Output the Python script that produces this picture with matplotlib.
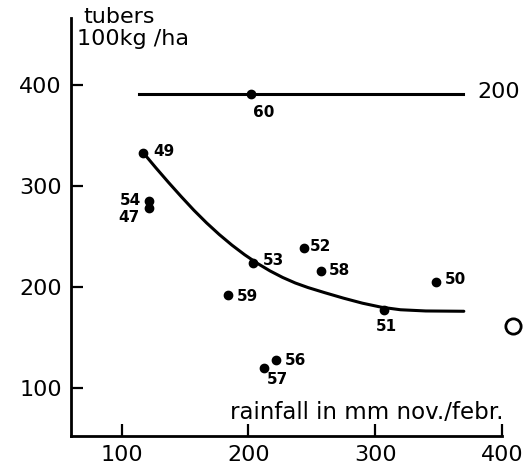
import matplotlib
matplotlib.use("Agg")
import matplotlib.pyplot as plt

# rainfall nov./febr. (mm) against tuber yield (100 kg/ha), one point per year
years = ["49", "54", "47", "53", "52", "58", "59", "56", "57", "50", "51"]
rain = [117, 121.5, 121.5, 204, 244, 257, 184, 222, 212, 348, 307]
yield_ = [333, 285, 278, 224, 239, 216, 192, 128, 120, 205, 177]

# fitted curve
curve_x = [117, 127, 137, 147, 157, 167, 177, 187, 197, 207, 217, 227, 237,
           247, 260, 275, 290, 305, 320, 340, 370]
curve_y = [333, 318, 303.5, 289.5, 276, 263.5, 252, 241.5, 232, 223.5, 216,
           209.5, 204, 199.5, 194.5, 189, 184, 180, 177.5, 176.3, 176]

# 1960 drawn separately with its own level line (right-hand value 200)
y60_x, y60_y = 202, 391
line60_x = [114, 369]
open_x, open_y = 409, 161

xticks = [100, 200, 300, 400]
yticks = [100, 200, 300, 400]

# label offsets in pixels (dx, dy, ha, va)
offsets = {
    "49": (10, 1, "left", "center"),
    "54": (-8, 1, "right", "center"),
    "47": (-9, -9, "right", "center"),
    "53": (9, 2, "left", "center"),
    "52": (6, 1, "left", "center"),
    "58": (8, 0, "left", "center"),
    "59": (9, -1, "left", "center"),
    "56": (9, -1, "left", "center"),
    "57": (14, -12, "center", "center"),
    "50": (9, 2, "left", "center"),
    "51": (2, -16, "center", "center"),
}

W, H = 532, 467
fig = plt.figure(figsize=(W / 100, H / 100), dpi=100)
ax = fig.add_axes([71 / W, 31 / H, 1 - 71 / W, 1 - 31 / H])
ax.set_xlim(60, 423.8)
ax.set_ylim(52.5, 484.2)

ax.plot(curve_x, curve_y, color="black", lw=2.2, solid_capstyle="round",
        solid_joinstyle="round")
ax.plot(line60_x, [y60_y, y60_y], color="black", lw=2.2)
ax.plot(rain, yield_, "o", color="black", ms=6)
ax.plot([y60_x], [y60_y], "o", color="black", ms=6)
ax.plot([open_x], [open_y], "o", mfc="white", mec="black", mew=2, ms=11,
        clip_on=False)

lab = dict(fontsize=11, fontweight="bold", color="black")
for yr, x, y in zip(years, rain, yield_):
    dx, dy, ha, va = offsets[yr]
    ax.annotate(yr, (x, y), xytext=(dx, dy), textcoords="offset pixels",
                ha=ha, va=va, **lab)
ax.annotate("60", (y60_x, y60_y), xytext=(13, -18), textcoords="offset pixels",
            ha="center", va="center", **lab)

ax.text(380.4, 393, "200", fontsize=16, ha="left", va="center")

for s in ["top", "right"]:
    ax.spines[s].set_visible(False)
ax.spines["left"].set_bounds(52.5, 466)
ax.spines["bottom"].set_bounds(60, 400)
for s in ["left", "bottom"]:
    ax.spines[s].set_linewidth(2)

ax.set_xticks(xticks)
ax.set_yticks(yticks)
ax.tick_params(direction="in", length=8.5, width=1.6, labelsize=16, pad=6.5)

fig.text(83 / W, 1 - 23 / H, "tubers", fontsize=16, va="baseline", ha="left")
fig.text(77 / W, 1 - 45 / H, "100kg /ha", fontsize=16, va="baseline", ha="left")
fig.text(503 / W, 1 - 419 / H, "rainfall in mm nov./febr.", fontsize=16.5,
         va="baseline", ha="right")

fig.savefig("out.png", dpi=100)
